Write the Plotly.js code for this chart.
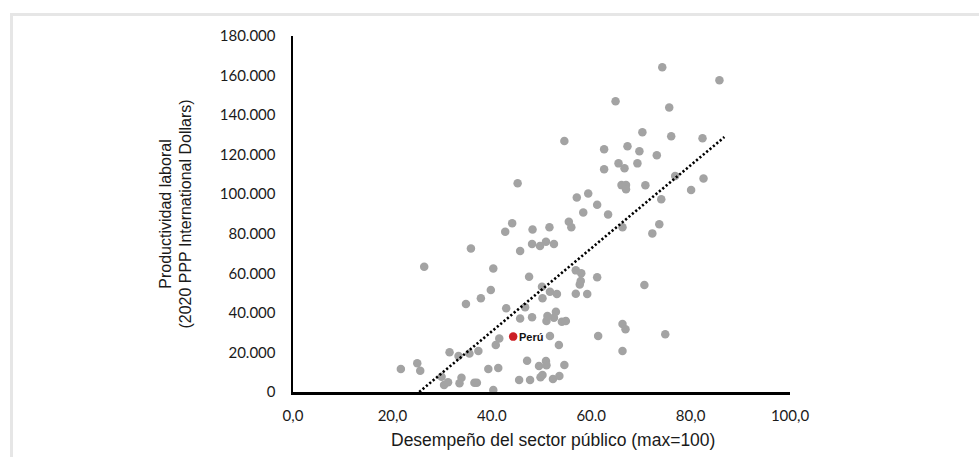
<!DOCTYPE html>
<html>
<head>
<meta charset="utf-8">
<script src="https://cdn.plot.ly/plotly-3.0.1.min.js"></script>
<style>
  html, body { margin: 0; padding: 0; background: #ffffff; }
  #wrap { position: relative; width: 979px; height: 457px; overflow: hidden; }
  #chart { position: absolute; left: 0; top: 0; width: 979px; height: 457px; }
  #frame { position: absolute; left: 10px; top: 13px; width: 975px; height: 450px;
           border-top: 3px solid #e6e6e6; border-left: 3px solid #e6e6e6; pointer-events: none; }
</style>
</head>
<body>
<div id="wrap">
  <div id="chart"></div>
  <div id="frame"></div>
</div>
<script>
// Desempeño del sector público (max=100)
const desempeno = [
  35.8, 26.4, 40.3, 45.7, 48.1, 49.7, 50.9, 52.5, 47.5, 39.8,
  37.8, 34.8, 50.1, 51.7, 53.1, 50.2, 56.9, 56.9, 42.9, 46.7,
  45.7, 48.1, 51.0, 52.9, 52.5, 54.1, 54.9, 51.2, 41.5, 40.8,
  51.7, 53.5, 31.5, 33.3, 35.5, 37.3, 25.0, 21.7, 25.6, 39.3,
  41.3, 47.1, 49.5, 50.9, 51.0, 54.6, 29.9, 30.4, 31.2, 33.9,
  33.5, 36.5, 37.0, 40.3, 45.5, 47.7, 49.8, 50.2, 52.3, 53.6,
  54.6, 45.2, 57.1, 44.1, 42.7, 48.2, 51.6, 55.5, 56.0,
  74.3, 85.8, 64.9, 75.7, 70.3, 76.1, 82.4, 62.6, 67.3, 69.7,
  73.2, 65.5, 66.7, 62.6, 69.3, 76.9, 82.6, 66.1, 67.0, 67.0,
  70.9, 80.1, 59.4, 61.2, 74.1, 58.4, 63.4, 66.3, 73.7, 72.3,
  58.0, 61.2, 57.9, 57.7, 59.2, 70.7, 66.3, 66.9, 61.4, 74.9,
  66.3
];
// Productividad laboral (2020 PPP International Dollars)
const productividad = [
  72600, 63300, 62500, 71300, 74800, 73800, 76000, 74800, 58300, 51600,
  47400, 44500, 53200, 50700, 49500, 47400, 61500, 49700, 42300, 42800,
  37200, 37800, 35900, 40600, 37600, 35500, 35900, 38400, 27100, 23800,
  28300, 23800, 20100, 18200, 19500, 20700, 14500, 11600, 10800, 11600,
  12100, 15800, 13100, 15700, 13500, 13600, 7700, 3500, 4900, 7200,
  4400, 4700, 4700, 1000, 6100, 6100, 7400, 8600, 6600, 8100,
  126900, 105500, 98400, 85300, 81000, 82200, 83300, 86100, 83300,
  164200, 157600, 147000, 143900, 131300, 129300, 128300, 122700, 124200, 121700,
  119700, 115600, 113100, 112600, 115600, 109200, 108000, 104600, 104600, 102500,
  104500, 102100, 100400, 94700, 97400, 90800, 89800, 83300, 84800, 80200,
  60000, 58000, 56100, 54400, 49500, 54100, 34400, 31700, 28300, 29200,
  20700
];
// Perú
const peruLabel = "Perú";
const peruX = [44.3];
const peruY = [28000];
// Linear trend (as drawn in the source)
const trendX = [25.4, 86.8];
const trendY = [0, 128900];
// Axis ticks and titles
const xTickVals = [0, 20, 40, 60, 80, 100];
const xTickText = ["0,0", "20,0", "40.0", "60.0", "80,0", "100,0"];
const yTickVals = [0, 20000, 40000, 60000, 80000, 100000, 120000, 140000, 160000, 180000];
const yTickText = ["0", "20.000", "40.000", "60.000", "80.000", "100.000", "120.000", "140.000", "160.000", "180.000"];
const xTitle = "Desempeño del sector público (max=100)";
const yTitle = "Productividad laboral<br>(2020 PPP International Dollars)";

const traces = [
  {
    type: "scatter", mode: "markers",
    x: desempeno, y: productividad,
    marker: { color: "#a3a3a3", size: 8.5 },
    hoverinfo: "x+y", showlegend: false
  },
  {
    type: "scatter", mode: "lines",
    x: trendX, y: trendY,
    line: { color: "#000000", width: 2.6, dash: "2.2px,2.2px" },
    hoverinfo: "skip", showlegend: false
  },
  {
    type: "scatter", mode: "markers",
    x: peruX, y: peruY,
    marker: { color: "#cc1f26", size: 8.5 },
    name: peruLabel, showlegend: false
  }
];

const tickFont = { family: "Lato, 'Open Sans', sans-serif", size: 15, color: "#1a1a1a" };
const titleFamily = "'Liberation Sans', Arial, sans-serif";

const layout = {
  width: 979, height: 457,
  margin: { l: 293, r: 189, t: 36, b: 65, pad: 0 },
  paper_bgcolor: "#ffffff", plot_bgcolor: "#ffffff",
  showlegend: false,
  xaxis: {
    range: [0, 100],
    tickvals: xTickVals, ticktext: xTickText,
    tickfont: tickFont,
    showgrid: false, zeroline: false,
    showline: true, linecolor: "#000000", linewidth: 2.5,
    ticks: "", ticklabelstandoff: 8,
    automargin: false, fixedrange: true
  },
  yaxis: {
    range: [0, 180000],
    tickvals: yTickVals, ticktext: yTickText,
    tickfont: tickFont,
    showgrid: false, zeroline: false,
    showline: true, linecolor: "#000000", linewidth: 2.5,
    ticks: "", ticklabelstandoff: 12,
    title: { text: yTitle, font: { family: titleFamily, size: 16, color: "#1a1a1a" }, standoff: 24 },
    automargin: false, fixedrange: true
  },
  annotations: [
    {
      x: 0.524, y: 0, xref: "paper", yref: "paper",
      text: xTitle, showarrow: false,
      xanchor: "center", yanchor: "middle", yshift: -48,
      font: { family: titleFamily, size: 17.5, color: "#1a1a1a" }
    },
    {
      x: peruX[0], y: peruY[0], xref: "x", yref: "y",
      text: "<b>" + peruLabel + "</b>", showarrow: false,
      xanchor: "left", yanchor: "middle", xshift: 4,
      font: { family: titleFamily, size: 11, color: "#111111" }
    }
  ]
};

Plotly.newPlot("chart", traces, layout, { displayModeBar: false, staticPlot: true });
</script>
</body>
</html>
